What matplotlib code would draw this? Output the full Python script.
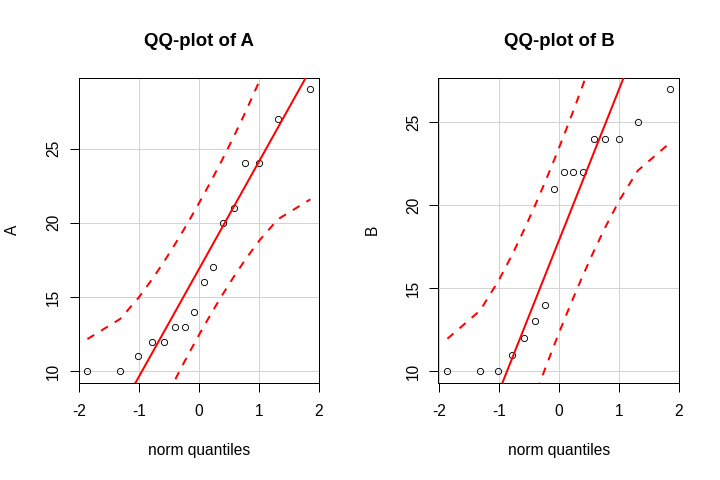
import numpy as np
import matplotlib
matplotlib.use('Agg')
import matplotlib.pyplot as plt
from statistics import NormalDist

# ---- data ----
a_values = [10, 10, 11, 12, 12, 13, 13, 14, 16, 17, 20, 21, 24, 24, 27, 29]
b_values = [10, 10, 10, 11, 12, 13, 14, 21, 22, 22, 22, 24, 24, 24, 25, 27]
series_names = ['A', 'B']
x_ticks = [-2, -1, 0, 1, 2]
y_ticks = [10, 15, 20, 25]
conf_level = 0.95

plt.rcParams['font.family'] = ['Liberation Sans', 'DejaVu Sans']
plt.rcParams['axes.unicode_minus'] = False

nd = NormalDist()
W, H = 720, 480
fig = plt.figure(figsize=(W / 72, H / 72), dpi=72)

boxes = [(78.5, 78.0, 319.3, 382.5), (438.5, 78.0, 679.3, 382.5)]
LAB = 15.5
TIT = 18.6

for name, vals, (l, t, r, b) in zip(series_names, [a_values, b_values], boxes):
    ax = fig.add_axes([l / W, 1 - b / H, (r - l) / W, (b - t) / H])
    y = np.sort(np.asarray(vals, float))
    n = len(y)
    P = (np.arange(1, n + 1) - 0.5) / n
    z = np.array([nd.inv_cdf(p) for p in P])
    q = np.quantile(y, [0.25, 0.75])
    qz = np.array([nd.inv_cdf(0.25), nd.inv_cdf(0.75)])
    slope = (q[1] - q[0]) / (qz[1] - qz[0])
    icpt = q[0] - slope * qz[0]
    zc = nd.inv_cdf(1 - (1 - conf_level) / 2)
    se = slope / np.array([nd.pdf(v) for v in z]) * np.sqrt(P * (1 - P) / n)
    fit = icpt + slope * z
    upper = fit + zc * se
    lower = fit - zc * se

    xr = z.max() - z.min()
    yr = y.max() - y.min()
    xlim = (z.min() - 0.04 * xr, z.max() + 0.04 * xr)
    ylim = (y.min() - 0.04 * yr, y.max() + 0.04 * yr)

    for xt in x_ticks:
        ax.axvline(xt, color='#D3D3D3', lw=1, zorder=0.5)
    for yt in y_ticks:
        ax.axhline(yt, color='#D3D3D3', lw=1, zorder=0.5)

    ax.plot(z, y, 'o', mfc='none', mec='black', ms=6.2, mew=0.9, zorder=2)
    xs = np.array(xlim)
    ax.plot(xs, icpt + slope * xs, color='red', lw=2, zorder=3)
    for env in (upper, lower):
        ln, = ax.plot(z, env, color='red', lw=2, zorder=3)
        ln.set_dashes([4, 4])

    ax.set_xlim(xlim)
    ax.set_ylim(ylim)
    ax.set_xticks(x_ticks)
    ax.set_yticks(y_ticks)
    ax.tick_params(length=9, width=1, labelsize=LAB, color='black')
    ax.tick_params(axis='x', pad=12)
    ax.tick_params(axis='y', pad=8.5, labelrotation=90)
    for lab in ax.get_yticklabels():
        lab.set_va('center')
    for s in ax.spines.values():
        s.set_linewidth(1)
        s.set_color('black')

    ax.set_title(f'QQ-plot of {name}', fontsize=TIT, fontweight='bold',
                 y=1 + 37.0 / (b - t), pad=0, va='center')
    ax.set_xlabel('norm quantiles', fontsize=LAB)
    ax.xaxis.set_label_coords(0.5, -68.2 / (b - t))
    ax.xaxis.label.set_va('center')
    ax.set_ylabel(name, fontsize=LAB)
    ax.yaxis.set_label_coords(-66.2 / (r - l), 0.5)
    ax.yaxis.label.set_va('center')

fig.savefig('out.png', dpi=72, facecolor='white')
